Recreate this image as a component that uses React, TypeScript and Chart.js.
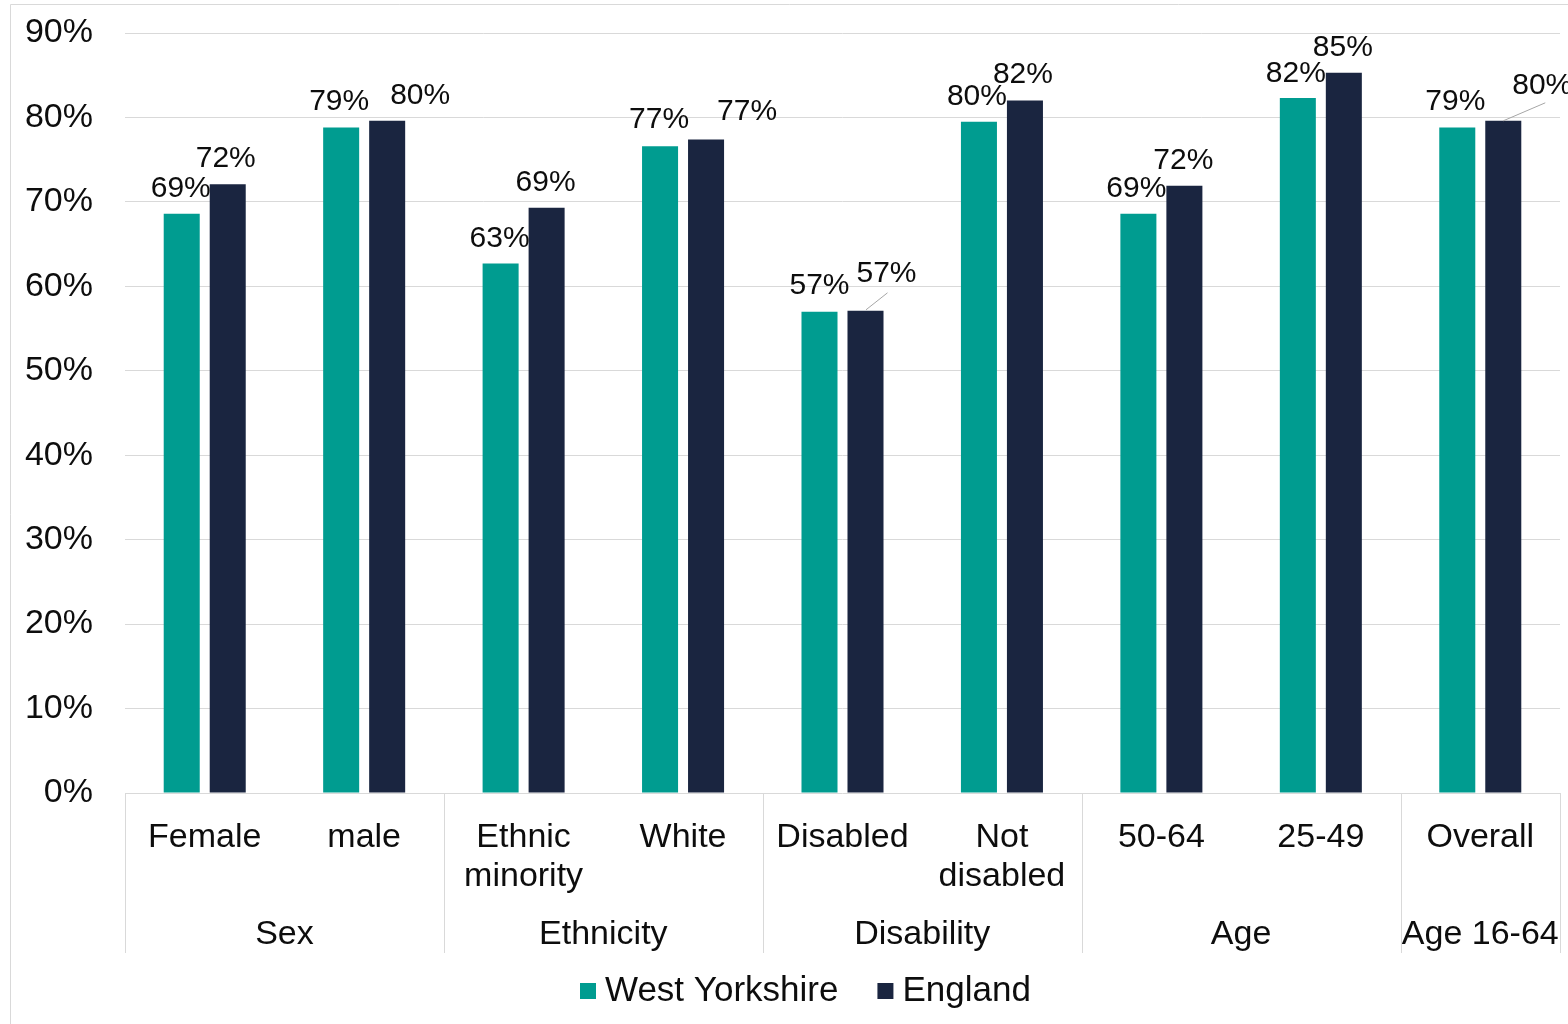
import { useEffect, useRef } from 'react';
import { Chart, registerables } from 'chart.js';

Chart.register(...registerables);

// Categories (multi-line labels) and their parent groups
const categories: string[][] = [
  ['Female'],
  ['male'],
  ['Ethnic', 'minority'],
  ['White'],
  ['Disabled'],
  ['Not', 'disabled'],
  ['50-64'],
  ['25-49'],
  ['Overall'],
];
const groupNames = ['Sex', 'Ethnicity', 'Disability', 'Age', 'Age 16-64'];
const groupSizes = [2, 2, 2, 2, 1];

// Employment rates (%)
const westYorkshire = [68.6, 78.8, 62.7, 76.6, 57.0, 79.5, 68.6, 82.3, 78.8];
const england = [72.1, 79.6, 69.3, 77.4, 57.1, 82.0, 71.9, 85.3, 79.6];

const seriesNames = ['West Yorkshire', 'England'];
const seriesColors = ['#009c90', '#1a2540'];

// Y axis range
const yMin = 0;
const yMax = 90;
const yStep = 10;

// Data label placement relative to the top-centre of each bar (px)
const labelOffsetsWY: [number, number][] = [
  [-1, -25], [-2, -26], [-1, -25], [-1, -26], [0, -26], [-2, -25], [-2, -25], [-2, -24], [-2, -26],
];
const labelOffsetsEN: [number, number][] = [
  [-2, -25], [33, -25], [-1, -25], [41, -28], [21, -37], [-2, -26], [-1, -25], [-1, -25], [39, -35],
];
// Leader lines for moved labels: [index, startDx, startDy, endDx, endDy]
const leadersEN: [number, number, number, number, number][] = [
  [4, 22, -18, 0.5, -1],
  [8, 42, -18, 0, 0],
];

const FONT = '"Liberation Sans", Arial, Helvetica, sans-serif';
const TEXT = '#0d0d0d';
const LINE = '#d9d9d9';

const framePlugin = {
  id: 'frame',
  beforeDraw(chart: any) {
    const { ctx, width, height } = chart;
    ctx.save();
    ctx.strokeStyle = LINE;
    ctx.lineWidth = 1;
    ctx.beginPath();
    ctx.moveTo(10.5, height);
    ctx.lineTo(10.5, 4.5);
    ctx.lineTo(width, 4.5);
    ctx.stroke();
    ctx.restore();
  },
};

const groupAxisPlugin = {
  id: 'groupAxis',
  afterDraw(chart: any) {
    const { ctx, chartArea } = chart;
    const xs = chart.scales.x;
    const bottom = chartArea.bottom;
    const half = (xs.getPixelForValue(1) - xs.getPixelForValue(0)) / 2;
    ctx.save();
    ctx.strokeStyle = LINE;
    ctx.lineWidth = 1;
    ctx.fillStyle = TEXT;
    ctx.font = `34px ${FONT}`;
    ctx.textAlign = 'center';
    ctx.textBaseline = 'middle';
    let start = 0;
    const bounds: number[] = [];
    groupNames.forEach((name, g) => {
      const end = start + groupSizes[g] - 1;
      const left = xs.getPixelForValue(start) - half;
      const right = xs.getPixelForValue(end) + half;
      if (g === 0) bounds.push(left);
      bounds.push(right);
      ctx.fillText(name, (left + right) / 2, 935);
      start = end + 1;
    });
    bounds.forEach((bx) => {
      const px = Math.round(bx) + 0.5;
      ctx.beginPath();
      ctx.moveTo(px, bottom);
      ctx.lineTo(px, 953);
      ctx.stroke();
    });
    ctx.restore();
  },
};

const legendPlugin = {
  id: 'customLegend',
  afterDraw(chart: any) {
    const { ctx } = chart;
    ctx.save();
    ctx.font = `35px ${FONT}`;
    ctx.textBaseline = 'middle';
    ctx.textAlign = 'left';
    let x = 580;
    const cy = 991;
    chart.data.datasets.forEach((ds: any) => {
      ctx.fillStyle = ds.backgroundColor;
      ctx.fillRect(x, cy - 8, 16, 16);
      ctx.fillStyle = TEXT;
      ctx.fillText(ds.label, x + 25, cy);
      x += 25 + ctx.measureText(ds.label).width + 39;
    });
    ctx.restore();
  },
};

const dataLabelPlugin = {
  id: 'barValues',
  afterDatasetsDraw(chart: any) {
    const { ctx } = chart;
    ctx.save();
    ctx.font = `30px ${FONT}`;
    ctx.fillStyle = TEXT;
    ctx.textAlign = 'center';
    ctx.textBaseline = 'middle';
    chart.data.datasets.forEach((ds: any, di: number) => {
      const meta = chart.getDatasetMeta(di);
      const offs = di === 0 ? labelOffsetsWY : labelOffsetsEN;
      meta.data.forEach((bar: any, i: number) => {
        const [dx, dy] = offs[i];
        ctx.fillText(`${Math.round(ds.data[i])}%`, bar.x + dx, bar.y + dy);
      });
      if (di === 1) {
        ctx.strokeStyle = '#a6a6a6';
        ctx.lineWidth = 1;
        leadersEN.forEach(([i, sx, sy, ex, ey]) => {
          const bar = meta.data[i];
          ctx.beginPath();
          ctx.moveTo(bar.x + sx, bar.y + sy);
          ctx.lineTo(bar.x + ex, bar.y + ey);
          ctx.stroke();
        });
      }
    });
    ctx.restore();
  },
};

export default function App() {
  const canvasRef = useRef<HTMLCanvasElement | null>(null);

  useEffect(() => {
    const canvas = canvasRef.current;
    if (!canvas) return;
    const chart = new Chart(canvas, {
      type: 'bar',
      data: {
        labels: categories,
        datasets: [
          { label: seriesNames[0], data: westYorkshire, backgroundColor: seriesColors[0] },
          { label: seriesNames[1], data: england, backgroundColor: seriesColors[1] },
        ],
      },
      options: {
        responsive: false,
        animation: false,
        devicePixelRatio: 1,
        layout: { padding: { top: 33, right: 8, left: 0, bottom: 0 } },
        datasets: {
          bar: { categoryPercentage: 0.577, barPercentage: 0.783 },
        },
        plugins: {
          legend: { display: false },
          tooltip: { enabled: false },
        },
        scales: {
          x: {
            grid: { display: false, drawTicks: false },
            border: { display: false },
            ticks: {
              color: TEXT,
              font: { family: FONT, size: 34, lineHeight: 1.15 },
              padding: 25,
              maxRotation: 0,
              autoSkip: false,
            },
            afterFit(scale: any) {
              scale.height = 231;
            },
          },
          y: {
            min: yMin,
            max: yMax,
            grid: { color: LINE, drawTicks: false },
            border: { display: false },
            ticks: {
              stepSize: yStep,
              color: TEXT,
              font: { family: FONT, size: 34 },
              padding: 32,
              callback: (v: any) => `${v}%`,
            },
            afterFit(scale: any) {
              scale.width = 125;
              scale.paddingTop = 0;
              scale.paddingBottom = 0;
            },
          },
        },
      },
      plugins: [framePlugin, dataLabelPlugin, groupAxisPlugin, legendPlugin],
    });
    return () => chart.destroy();
  }, []);

  return (
    <div style={{ position: 'absolute', left: 0, top: 0, width: 1568, height: 1024, background: '#fff' }}>
      <canvas ref={canvasRef} width={1568} height={1024} />
    </div>
  );
}
